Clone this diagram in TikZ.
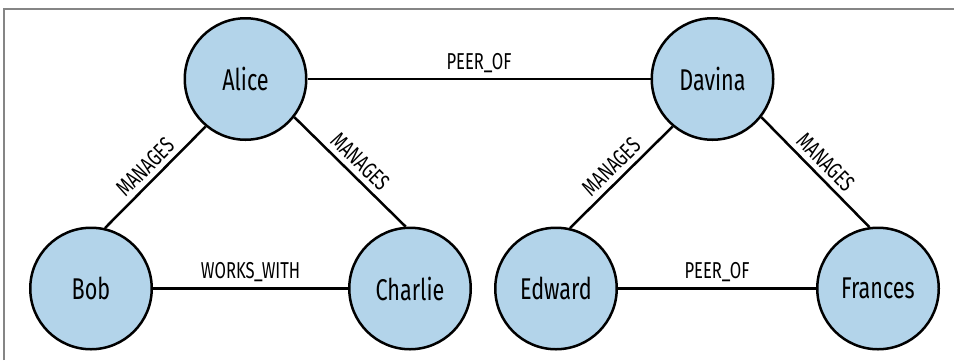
\documentclass[tikz,border=0pt]{standalone}
\usepackage{fontspec}
\newfontfamily\graphfont[FakeStretch=0.72]{Fira Sans}
\definecolor{nodeblue}{HTML}{B3D4EA}
\definecolor{framegray}{HTML}{858585}
\begin{document}
\begin{tikzpicture}[x=1pt,y=-1pt,
  person/.style={circle, draw=black, line width=2.5pt, fill=nodeblue,
    minimum size=121.5pt, inner sep=0pt, font=\graphfont\fontsize{30}{32}\selectfont},
  rel/.style={line width=2.5pt, draw=black},
  rellabel/.style={font=\graphfont\fontsize{23}{25}\selectfont, inner sep=2pt, above=3pt, sloped}
]
\useasboundingbox (0,0) rectangle (954,360);
\draw[framegray, line width=2pt] (4,360) -- (4,9) -- (954,9);

\node[person] (alice)   at (245.5,79) {Alice};
\node[person] (davina)  at (712.5,79) {Davina};
\node[person] (bob)     at (91,288.5) {Bob};
\node[person] (charlie) at (410,288.5) {Charlie};
\node[person] (edward)  at (556,288.5) {Edward};
\node[person] (frances) at (878,288.5) {Frances};

\draw[rel] (alice) -- node[rellabel] {PEER\_OF} (davina);
\draw[rel] (alice.230) -- node[rellabel] {MANAGES} (bob.77);
\draw[rel] (alice.322) -- node[rellabel] {MANAGES} (charlie.94);
\draw[rel] (bob) -- node[rellabel] {WORKS\_WITH} (charlie);
\draw[rel] (davina.230) -- node[rellabel] {MANAGES} (edward.77);
\draw[rel] (davina.322) -- node[rellabel] {MANAGES} (frances.98);
\draw[rel] (edward) -- node[rellabel] {PEER\_OF} (frances);
\end{tikzpicture}
\end{document}
